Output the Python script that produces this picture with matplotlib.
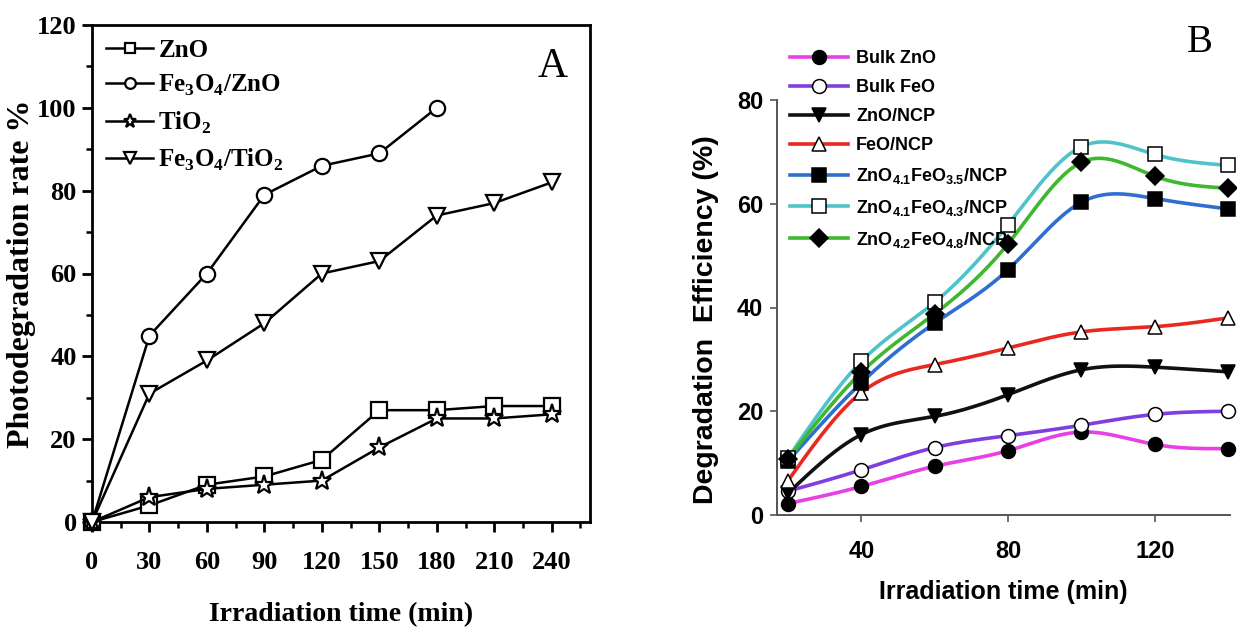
import numpy as np
import matplotlib
matplotlib.use("Agg")
import matplotlib.pyplot as plt
from matplotlib.ticker import MultipleLocator

# ---------------- Data: panel A ----------------
time_a_long = [0, 30, 60, 90, 120, 150, 180, 210, 240]
time_a_short = [0, 30, 60, 90, 120, 150, 180]
zno_a = [0, 4, 9, 11, 15, 27, 27, 28, 28]
fe3o4_zno_a = [0, 45, 60, 79, 86, 89, 100]
tio2_a = [0, 6, 8, 9, 10, 18, 25, 25, 26]
fe3o4_tio2_a = [0, 31, 39, 48, 60, 63, 74, 77, 82]
labels_a = ["ZnO", r"Fe$_\mathbf{3}$O$_\mathbf{4}$/ZnO", r"TiO$_\mathbf{2}$",
            r"Fe$_\mathbf{3}$O$_\mathbf{4}$/TiO$_\mathbf{2}$"]
xticks_a = [0, 30, 60, 90, 120, 150, 180, 210, 240]
yticks_a = [0, 20, 40, 60, 80, 100, 120]

# ---------------- Data: panel B ----------------
time_b = [20, 40, 60, 80, 100, 120, 140]
bulk_zno = [2.2, 5.5, 9.4, 12.4, 16.0, 13.6, 12.8]
bulk_feo = [4.6, 8.7, 13.0, 15.3, 17.3, 19.4, 20.0]
zno_ncp = [4.2, 15.5, 19.0, 23.2, 28.0, 28.5, 27.6]
feo_ncp = [6.6, 23.6, 29.0, 32.2, 35.3, 36.3, 38.0]
zno41_feo35 = [10.4, 25.5, 37.0, 47.3, 60.3, 61.0, 59.0]
zno41_feo43 = [11.0, 29.6, 41.0, 56.0, 71.0, 69.5, 67.4]
zno42_feo48 = [10.8, 27.5, 38.8, 52.3, 68.0, 65.3, 63.0]
labels_b = ["Bulk ZnO", "Bulk FeO", "ZnO/NCP", "FeO/NCP",
            r"ZnO$_{\mathsf{4.1}}$FeO$_{\mathsf{3.5}}$/NCP",
            r"ZnO$_{\mathsf{4.1}}$FeO$_{\mathsf{4.3}}$/NCP",
            r"ZnO$_{\mathsf{4.2}}$FeO$_{\mathsf{4.8}}$/NCP"]
xticks_b = [40, 80, 120]
yticks_b = [0, 20, 40, 60, 80]


def natural_spline(x, y, n=300):
    """Smooth drawing curve through the data points (natural cubic spline)."""
    x = np.asarray(x, float)
    y = np.asarray(y, float)
    k = len(x)
    h = np.diff(x)
    A = np.zeros((k, k))
    r = np.zeros(k)
    A[0, 0] = 1
    A[-1, -1] = 1
    for i in range(1, k - 1):
        A[i, i - 1] = h[i - 1]
        A[i, i] = 2 * (h[i - 1] + h[i])
        A[i, i + 1] = h[i]
        r[i] = 6 * ((y[i + 1] - y[i]) / h[i] - (y[i] - y[i - 1]) / h[i - 1])
    M = np.linalg.solve(A, r)
    xs = np.linspace(x[0], x[-1], n)
    ys = np.empty_like(xs)
    for j, xv in enumerate(xs):
        i = min(np.searchsorted(x, xv, side="right") - 1, k - 2)
        t1 = x[i + 1] - xv
        t0 = xv - x[i]
        ys[j] = (M[i] * t1 ** 3 / (6 * h[i]) + M[i + 1] * t0 ** 3 / (6 * h[i])
                 + (y[i] / h[i] - M[i] * h[i] / 6) * t1
                 + (y[i + 1] / h[i] - M[i + 1] * h[i] / 6) * t0)
    return xs, ys


plt.rcParams["mathtext.fontset"] = "custom"
plt.rcParams["mathtext.bf"] = "Liberation Serif:bold"
plt.rcParams["mathtext.rm"] = "Liberation Serif:bold"
plt.rcParams["mathtext.sf"] = "Liberation Sans:bold"

fig = plt.figure(figsize=(12.37, 6.29), dpi=100)

# ================= Panel A =================
serif = "Liberation Serif"
axA = fig.add_axes([92 / 1237, 1 - 522 / 629, (590 - 92) / 1237, (522 - 25) / 629])
common = dict(color="black", lw=1.8, mfc="white", mec="black", mew=1.6, ms=11,
              clip_on=False, zorder=3)
axA.plot(time_a_long, zno_a, marker="s", label=labels_a[0], **common)
axA.plot(time_a_short, fe3o4_zno_a, marker="o", label=labels_a[1], **common)
axA.plot(time_a_long, tio2_a, marker="*", label=labels_a[2], **dict(common, ms=14))
axA.plot(time_a_long, fe3o4_tio2_a, marker="v", label=labels_a[3], **dict(common, ms=12))
axA.set_xlim(0, 260)
axA.set_ylim(0, 120)
axA.set_xticks(xticks_a)
axA.set_yticks(yticks_a)
axA.xaxis.set_minor_locator(MultipleLocator(15))
axA.yaxis.set_minor_locator(MultipleLocator(10))
axA.tick_params(which="major", direction="out", length=7, width=2, labelsize=19, pad=4)
axA.tick_params(which="minor", direction="out", length=4, width=1.8)
axA.tick_params(axis="x", which="major", pad=14)
for lab in axA.get_xticklabels() + axA.get_yticklabels():
    lab.set_fontfamily(serif)
    lab.set_fontweight("bold")
for sp in axA.spines.values():
    sp.set_linewidth(2)
axA.set_xlabel("Irradiation time (min)", fontfamily=serif, fontweight="bold",
               fontsize=20, labelpad=20)
axA.set_ylabel("Photodegradation rate %", fontfamily=serif, fontweight="bold",
               fontsize=23)
axA.yaxis.set_label_coords(-0.113, 0.5)
legA = axA.legend(loc="upper left", bbox_to_anchor=(0.0, 1.0), frameon=False,
                  prop={"family": serif, "weight": "bold", "size": 18},
                  handlelength=1.9, handletextpad=0.2, labelspacing=0.45,
                  borderaxespad=0.15, markerscale=0.7)
axA.text(0.955, 0.915, "A", transform=axA.transAxes, fontfamily=serif,
         fontsize=30, ha="right", va="center")

# ================= Panel B =================
sans = "Liberation Sans"
axB = fig.add_axes([777 / 1237, 1 - 515 / 629, (1230 - 777) / 1237, (515 - 100) / 629])
series_b = [bulk_zno, bulk_feo, zno_ncp, feo_ncp, zno41_feo35, zno41_feo43, zno42_feo48]
colors_b = ["#e83fe6", "#7f3fe0", "#111111", "#e8291f", "#2f6fd0", "#4fc4c8", "#3fb72e"]
markers_b = ["o", "o", "v", "^", "s", "s", "D"]
mfc_b = ["black", "white", "black", "white", "black", "white", "black"]
ms_b = [10, 10, 10, 10, 9.5, 9.5, 9]
handles = []
for yv, c, m, fc, ms, lab in zip(series_b, colors_b, markers_b, mfc_b, ms_b, labels_b):
    xs, ys = natural_spline(time_b, yv)
    axB.plot(xs, ys, color=c, lw=2.6, zorder=2, clip_on=False)
    axB.plot(time_b, yv, ls="none", marker=m, mfc=fc, mec="black", mew=1.1,
             ms=ms, zorder=3, clip_on=False)
    h, = axB.plot([], [], color=c, lw=2.6, marker=m, mfc=fc, mec="black",
                  mew=1.1, ms=ms, label=lab)
    handles.append(h)
axB.set_xlim(17, 140.5)
axB.set_ylim(0, 80)
axB.set_xticks(xticks_b)
axB.set_yticks(yticks_b)
axB.spines["top"].set_visible(False)
axB.spines["right"].set_visible(False)
for s in ["left", "bottom"]:
    axB.spines[s].set_linewidth(1.4)
    axB.spines[s].set_color("#555555")
axB.tick_params(direction="out", length=5, width=1.2, color="#555555",
                labelsize=17, pad=5)
axB.tick_params(axis="x", pad=13)
for lab in axB.get_xticklabels() + axB.get_yticklabels():
    lab.set_fontfamily(sans)
    lab.set_fontweight("bold")
axB.set_xlabel("Irradiation time (min)", fontfamily=sans, fontweight="bold",
               fontsize=18, labelpad=12)
axB.set_ylabel("Degradation  Efficiency (%)", fontfamily=sans, fontweight="bold",
               fontsize=20.5)
axB.yaxis.set_label_coords(-0.128, 0.47)
fig.legend(handles=handles, loc="upper left", bbox_to_anchor=(783 / 1237, 1 - 43 / 629),
           frameon=False, prop={"family": sans, "weight": "bold", "size": 13},
           handlelength=3.2, handletextpad=0.45, labelspacing=0.66, borderaxespad=0)
fig.text(1200 / 1237, 1 - 42 / 629, "B", fontfamily=serif, fontsize=28,
         ha="center", va="center")

fig.savefig("out.png", dpi=100)
